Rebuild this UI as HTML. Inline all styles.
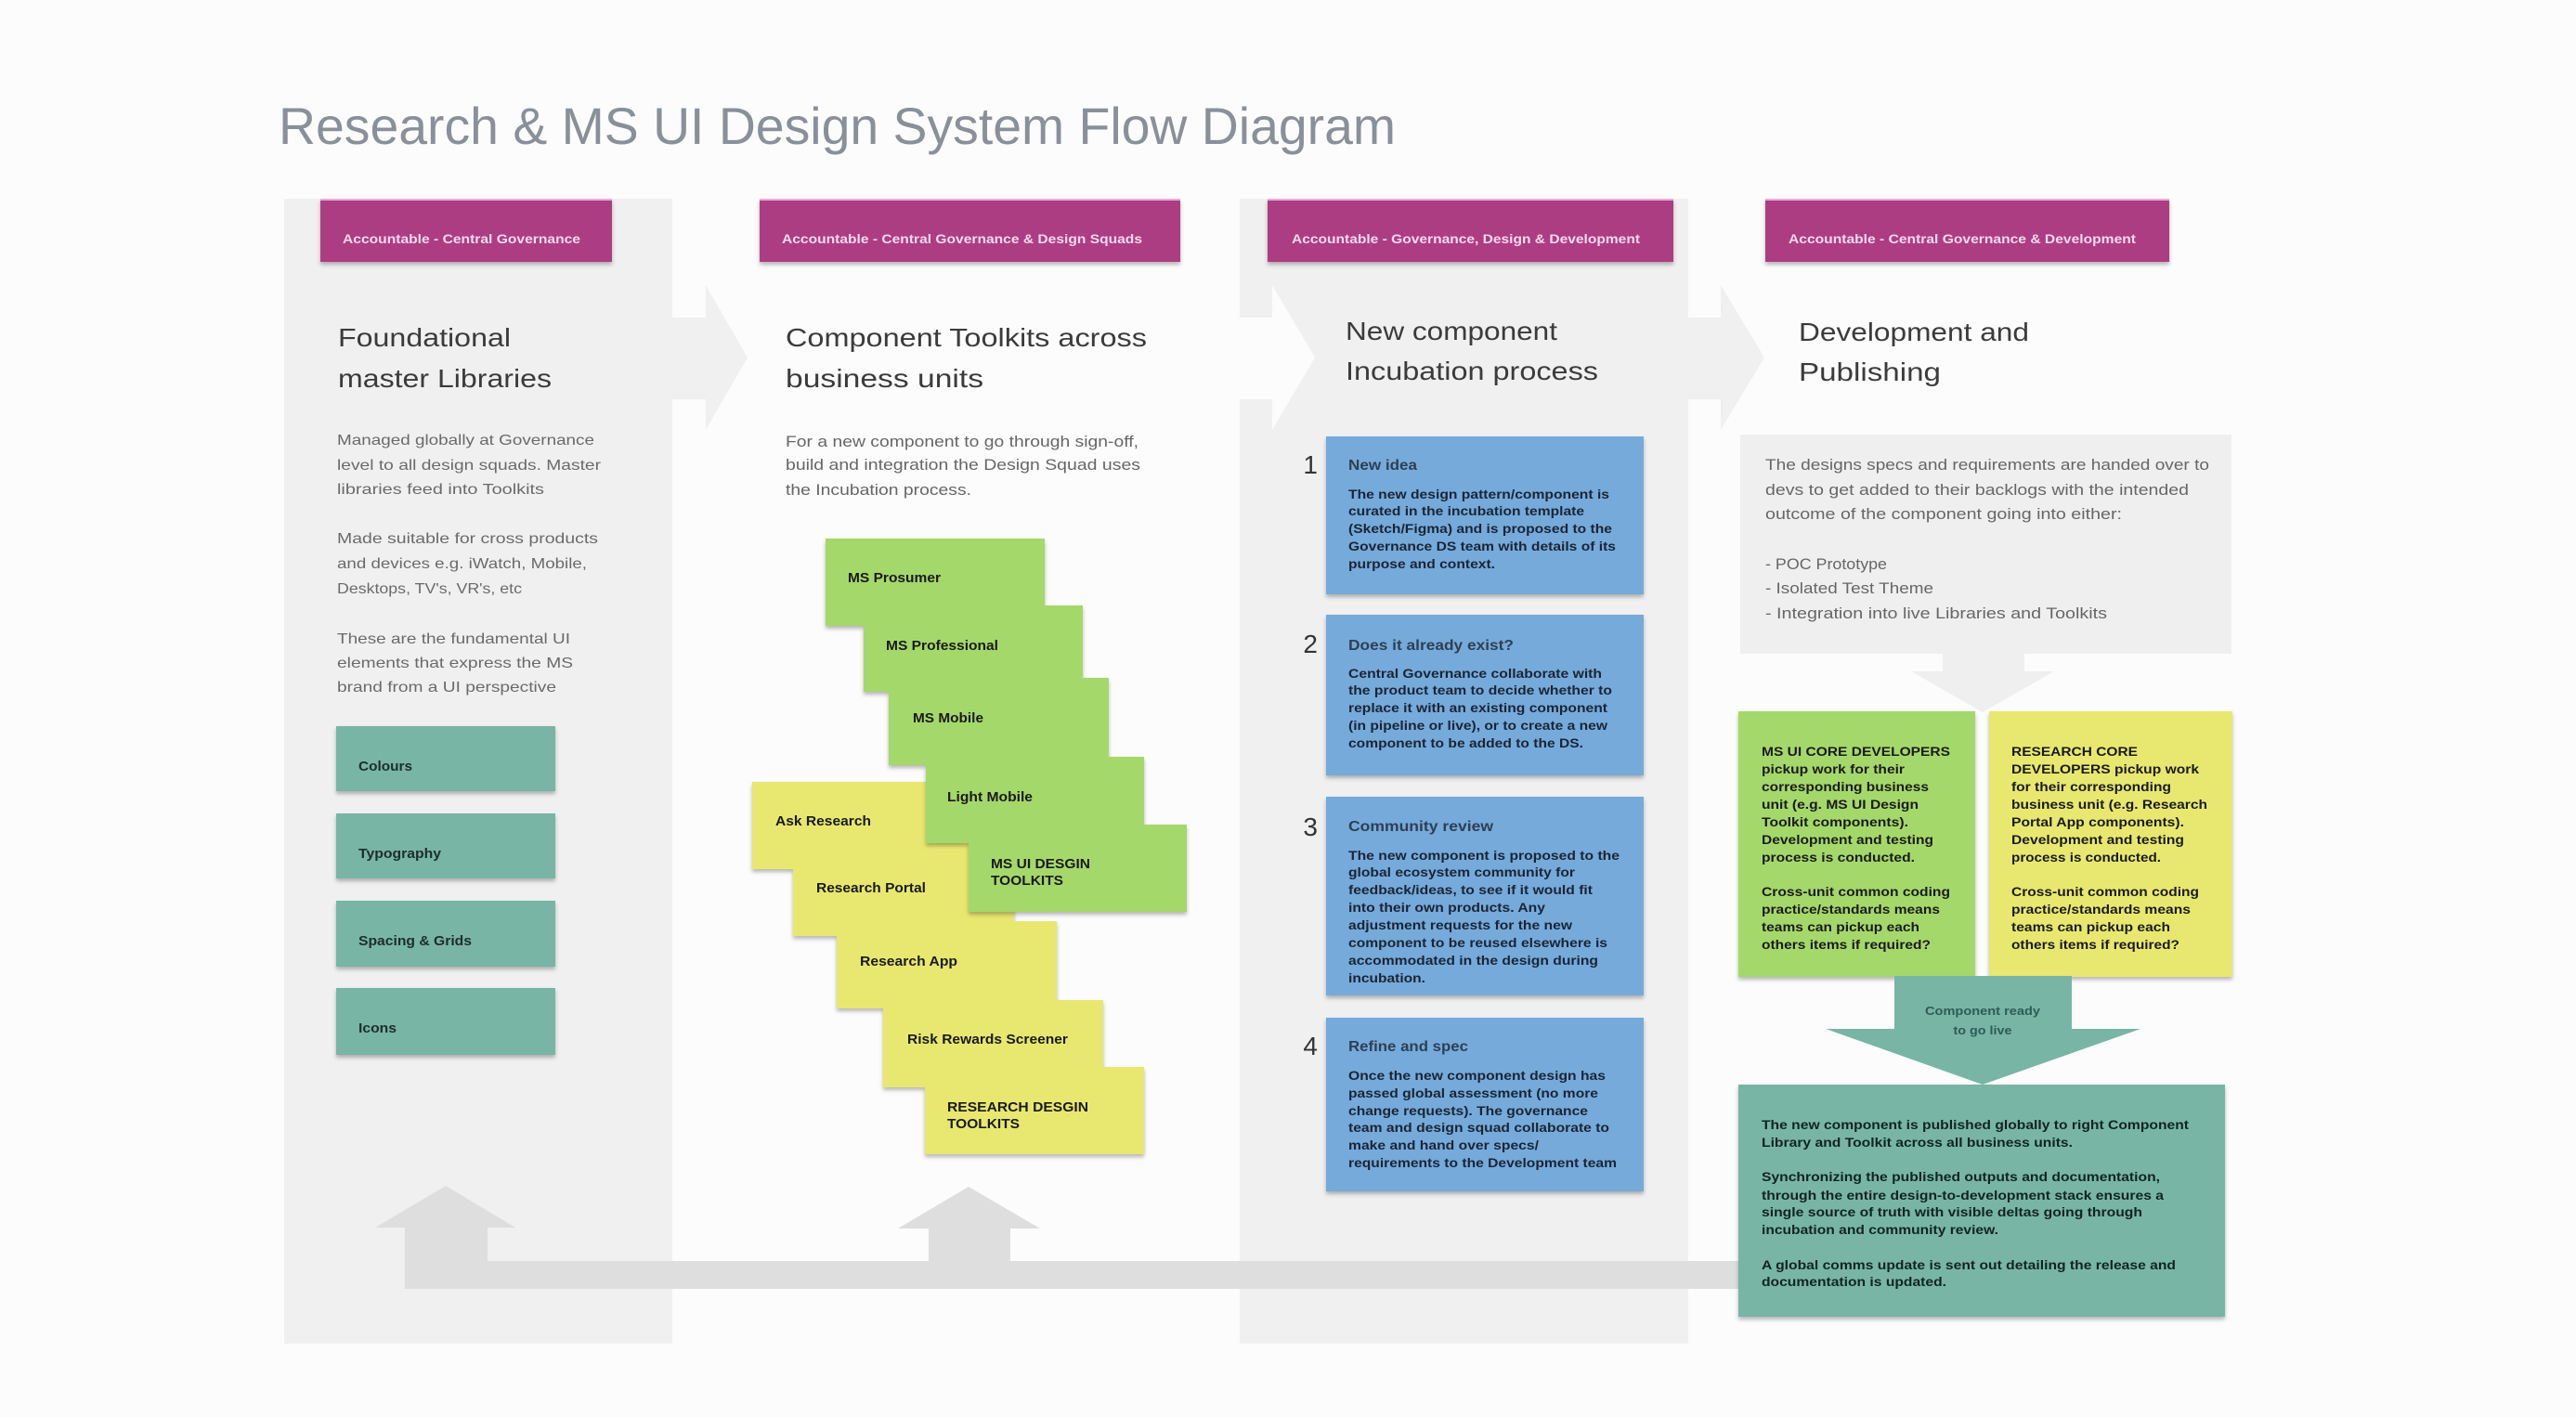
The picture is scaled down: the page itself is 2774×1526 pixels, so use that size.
<!DOCTYPE html>
<html>
<head>
<meta charset="utf-8">
<style>
  html, body { margin: 0; padding: 0; background: #fcfcfc; }
  svg { display: block; }
  text { font-family: "Liberation Sans", "DejaVu Sans", sans-serif; }
  .hdr { fill: #f8d9ef; font-size: 14px; font-weight: bold; }
  .h2 { fill: #3b3b3b; font-size: 28px; }
  .p { fill: #6a6a6a; font-size: 16px; }
  .p17 { fill: #666666; font-size: 17px; }
  .lbl { fill: #1d2e2a; font-size: 15px; font-weight: bold; }
  .stk { fill: #1a1a1a; font-size: 15px; font-weight: bold; }
  .num { fill: #333333; font-size: 28px; }
  .bt { fill: #2f3f52; font-size: 16px; font-weight: bold; }
  .bb { fill: #1b2433; font-size: 14px; font-weight: bold; }
  .db { fill: #1a1a1a; font-size: 13.5px; font-weight: bold; }
  .tb { fill: #102420; font-size: 13.5px; font-weight: bold; }
</style>
</head>
<body>
<svg width="2774" height="1526" viewBox="0 0 2774 1526" xmlns="http://www.w3.org/2000/svg">
  <defs>
    <filter id="sh" x="-10%" y="-10%" width="120%" height="130%">
      <feDropShadow dx="0" dy="3" stdDeviation="2" flood-color="#000" flood-opacity="0.28"/>
    </filter>
  </defs>

  <rect x="0" y="0" width="2774" height="1526" fill="#fcfcfc"/>

  <!-- Title -->
  <text x="300" y="155" font-size="56" fill="#8a9099" textLength="1203" lengthAdjust="spacingAndGlyphs">Research &amp; MS UI Design System Flow Diagram</text>

  <!-- Column 1 gray + arrow -->
  <rect x="306" y="214" width="418" height="1233" fill="#f0f0f0"/>
  <rect x="723" y="342" width="38" height="88" fill="#f0f0f0"/>
  <polygon points="760,307 805,385 760,463" fill="#f0f0f0"/>

  <!-- Column 3 gray + white arrow in + gray arrow out -->
  <rect x="1335" y="214" width="483" height="1233" fill="#f0f0f0"/>
  <rect x="1334" y="342" width="37" height="88" fill="#fcfcfc"/>
  <polygon points="1370,307 1416,385 1370,463" fill="#fcfcfc"/>
  <rect x="1817" y="342" width="37" height="88" fill="#f0f0f0"/>
  <polygon points="1853,307 1900,385 1853,463" fill="#f0f0f0"/>

  <!-- Magenta headers -->
  <g filter="url(#sh)">
    <rect x="345" y="214" width="314" height="68" fill="#ad3d83"/>
    <rect x="818" y="214" width="453" height="68" fill="#ad3d83"/>
    <rect x="1365" y="214" width="437" height="68" fill="#ad3d83"/>
    <rect x="1901" y="214" width="435" height="68" fill="#ad3d83"/>
  </g>
  <rect x="345" y="214" width="314" height="2" fill="#e9a9d4"/>
  <rect x="818" y="214" width="453" height="2" fill="#e9a9d4"/>
  <rect x="1365" y="214" width="437" height="2" fill="#e9a9d4"/>
  <rect x="1901" y="214" width="435" height="2" fill="#e9a9d4"/>
  <text class="hdr" x="369" y="262" textLength="256" lengthAdjust="spacingAndGlyphs">Accountable - Central Governance</text>
  <text class="hdr" x="842" y="262" textLength="388" lengthAdjust="spacingAndGlyphs">Accountable - Central Governance &amp; Design Squads</text>
  <text class="hdr" x="1391" y="262" textLength="375" lengthAdjust="spacingAndGlyphs">Accountable - Governance, Design &amp; Development</text>
  <text class="hdr" x="1926" y="262" textLength="374" lengthAdjust="spacingAndGlyphs">Accountable - Central Governance &amp; Development</text>

  <!-- Headings -->
  <text class="h2" x="364" y="373" textLength="186" lengthAdjust="spacingAndGlyphs">Foundational</text>
  <text class="h2" x="364" y="417" textLength="230" lengthAdjust="spacingAndGlyphs">master Libraries</text>
  <text class="h2" x="846" y="373" textLength="389" lengthAdjust="spacingAndGlyphs">Component Toolkits across</text>
  <text class="h2" x="846" y="417" textLength="213" lengthAdjust="spacingAndGlyphs">business units</text>
  <text class="h2" x="1449" y="366" textLength="228" lengthAdjust="spacingAndGlyphs">New component</text>
  <text class="h2" x="1449" y="409" textLength="272" lengthAdjust="spacingAndGlyphs">Incubation process</text>
  <text class="h2" x="1937" y="367" textLength="248" lengthAdjust="spacingAndGlyphs">Development and</text>
  <text class="h2" x="1937" y="410" textLength="153" lengthAdjust="spacingAndGlyphs">Publishing</text>

  <!-- Col 1 paragraphs -->
  <text class="p" x="363" y="479" textLength="277" lengthAdjust="spacingAndGlyphs">Managed globally at Governance</text>
  <text class="p" x="363" y="506" textLength="284" lengthAdjust="spacingAndGlyphs">level to all design squads. Master</text>
  <text class="p" x="363" y="532" textLength="223" lengthAdjust="spacingAndGlyphs">libraries feed into Toolkits</text>
  <text class="p" x="363" y="585" textLength="281" lengthAdjust="spacingAndGlyphs">Made suitable for cross products</text>
  <text class="p" x="363" y="612" textLength="269" lengthAdjust="spacingAndGlyphs">and devices e.g. iWatch, Mobile,</text>
  <text class="p" x="363" y="639" textLength="199" lengthAdjust="spacingAndGlyphs">Desktops, TV's, VR's, etc</text>
  <text class="p" x="363" y="693" textLength="251" lengthAdjust="spacingAndGlyphs">These are the fundamental UI</text>
  <text class="p" x="363" y="719" textLength="254" lengthAdjust="spacingAndGlyphs">elements that express the MS</text>
  <text class="p" x="363" y="745" textLength="236" lengthAdjust="spacingAndGlyphs">brand from a UI perspective</text>

  <!-- Col 1 teal boxes -->
  <g filter="url(#sh)" fill="#78b5a5">
    <rect x="362" y="782" width="236" height="70"/>
    <rect x="362" y="876" width="236" height="70"/>
    <rect x="362" y="970" width="236" height="71"/>
    <rect x="362" y="1064" width="236" height="72"/>
  </g>
  <text class="lbl" x="386" y="830" textLength="58" lengthAdjust="spacingAndGlyphs">Colours</text>
  <text class="lbl" x="386" y="924" textLength="89" lengthAdjust="spacingAndGlyphs">Typography</text>
  <text class="lbl" x="386" y="1018" textLength="122" lengthAdjust="spacingAndGlyphs">Spacing &amp; Grids</text>
  <text class="lbl" x="386" y="1112" textLength="41" lengthAdjust="spacingAndGlyphs">Icons</text>

  <!-- Col 2 paragraph -->
  <text class="p17" x="846" y="481" textLength="380" lengthAdjust="spacingAndGlyphs">For a new component to go through sign-off,</text>
  <text class="p17" x="846" y="506" textLength="382" lengthAdjust="spacingAndGlyphs">build and integration the Design Squad uses</text>
  <text class="p17" x="846" y="533" textLength="200" lengthAdjust="spacingAndGlyphs">the Incubation process.</text>

  <!-- Col 2 stickies: yellow first -->
  <g filter="url(#sh)">
    <rect x="810" y="842" width="236" height="94" fill="#e8e86f"/>
    <rect x="854" y="915" width="238" height="93" fill="#e8e86f"/>
    <rect x="901" y="992" width="237" height="94" fill="#e8e86f"/>
    <rect x="951" y="1077" width="237" height="94" fill="#e8e86f"/>
    <rect x="996" y="1149" width="236" height="94" fill="#e8e86f"/>
  </g>
  <text class="stk" x="835" y="889" textLength="103" lengthAdjust="spacingAndGlyphs">Ask Research</text>
  <text class="stk" x="879" y="961" textLength="118" lengthAdjust="spacingAndGlyphs">Research Portal</text>
  <text class="stk" x="926" y="1040" textLength="105" lengthAdjust="spacingAndGlyphs">Research App</text>
  <text class="stk" x="977" y="1124" textLength="173" lengthAdjust="spacingAndGlyphs">Risk Rewards Screener</text>
  <text class="stk" x="1020" y="1197" textLength="152" lengthAdjust="spacingAndGlyphs">RESEARCH DESGIN</text>
  <text class="stk" x="1020" y="1215" textLength="78" lengthAdjust="spacingAndGlyphs">TOOLKITS</text>
  <g filter="url(#sh)">
    <rect x="889" y="580" width="236" height="94" fill="#a5d86b"/>
    <rect x="930" y="652" width="236" height="93" fill="#a5d86b"/>
    <rect x="957" y="730" width="237" height="94" fill="#a5d86b"/>
    <rect x="997" y="815" width="235" height="93" fill="#a5d86b"/>
    <rect x="1043" y="888" width="235" height="94" fill="#a5d86b"/>
  </g>
  <text class="stk" x="913" y="627" textLength="100" lengthAdjust="spacingAndGlyphs">MS Prosumer</text>
  <text class="stk" x="954" y="700" textLength="121" lengthAdjust="spacingAndGlyphs">MS Professional</text>
  <text class="stk" x="983" y="778" textLength="76" lengthAdjust="spacingAndGlyphs">MS Mobile</text>
  <text class="stk" x="1020" y="863" textLength="92" lengthAdjust="spacingAndGlyphs">Light Mobile</text>
  <text class="stk" x="1067" y="935" textLength="107" lengthAdjust="spacingAndGlyphs">MS UI DESGIN</text>
  <text class="stk" x="1067" y="953" textLength="78" lengthAdjust="spacingAndGlyphs">TOOLKITS</text>

  <!-- Col 3 blue boxes -->
  <g filter="url(#sh)" fill="#74aadb">
    <rect x="1428" y="470" width="342" height="170"/>
    <rect x="1428" y="662" width="342" height="173"/>
    <rect x="1428" y="858" width="342" height="214"/>
    <rect x="1428" y="1096" width="342" height="187"/>
  </g>
  <text class="num" x="1419" y="510" text-anchor="end">1</text>
  <text class="num" x="1419" y="703" text-anchor="end">2</text>
  <text class="num" x="1419" y="900" text-anchor="end">3</text>
  <text class="num" x="1419" y="1136" text-anchor="end">4</text>

  <text class="bt" x="1452" y="506" textLength="74" lengthAdjust="spacingAndGlyphs">New idea</text>
  <text class="bb" x="1452" y="537" textLength="281" lengthAdjust="spacingAndGlyphs">The new design pattern/component is</text>
  <text class="bb" x="1452" y="555" textLength="254" lengthAdjust="spacingAndGlyphs">curated in the incubation template</text>
  <text class="bb" x="1452" y="574" textLength="284" lengthAdjust="spacingAndGlyphs">(Sketch/Figma) and is proposed to the</text>
  <text class="bb" x="1452" y="593" textLength="288" lengthAdjust="spacingAndGlyphs">Governance DS team with details of its</text>
  <text class="bb" x="1452" y="612" textLength="158" lengthAdjust="spacingAndGlyphs">purpose and context.</text>

  <text class="bt" x="1452" y="700" textLength="178" lengthAdjust="spacingAndGlyphs">Does it already exist?</text>
  <text class="bb" x="1452" y="730" textLength="273" lengthAdjust="spacingAndGlyphs">Central Governance collaborate with</text>
  <text class="bb" x="1452" y="748" textLength="284" lengthAdjust="spacingAndGlyphs">the product team to decide whether to</text>
  <text class="bb" x="1452" y="767" textLength="279" lengthAdjust="spacingAndGlyphs">replace it with an existing component</text>
  <text class="bb" x="1452" y="786" textLength="279" lengthAdjust="spacingAndGlyphs">(in pipeline or live), or to create a new</text>
  <text class="bb" x="1452" y="805" textLength="253" lengthAdjust="spacingAndGlyphs">component to be added to the DS.</text>

  <text class="bt" x="1452" y="895" textLength="156" lengthAdjust="spacingAndGlyphs">Community review</text>
  <text class="bb" x="1452" y="926" textLength="292" lengthAdjust="spacingAndGlyphs">The new component is proposed to the</text>
  <text class="bb" x="1452" y="944" textLength="244" lengthAdjust="spacingAndGlyphs">global ecosystem community for</text>
  <text class="bb" x="1452" y="963" textLength="263" lengthAdjust="spacingAndGlyphs">feedback/ideas, to see if it would fit</text>
  <text class="bb" x="1452" y="982" textLength="212" lengthAdjust="spacingAndGlyphs">into their own products. Any</text>
  <text class="bb" x="1452" y="1001" textLength="241" lengthAdjust="spacingAndGlyphs">adjustment requests for the new</text>
  <text class="bb" x="1452" y="1020" textLength="279" lengthAdjust="spacingAndGlyphs">component to be reused elsewhere is</text>
  <text class="bb" x="1452" y="1039" textLength="269" lengthAdjust="spacingAndGlyphs">accommodated in the design during</text>
  <text class="bb" x="1452" y="1058" textLength="83" lengthAdjust="spacingAndGlyphs">incubation.</text>

  <text class="bt" x="1452" y="1132" textLength="129" lengthAdjust="spacingAndGlyphs">Refine and spec</text>
  <text class="bb" x="1452" y="1163" textLength="277" lengthAdjust="spacingAndGlyphs">Once the new component design has</text>
  <text class="bb" x="1452" y="1182" textLength="269" lengthAdjust="spacingAndGlyphs">passed global assessment (no more</text>
  <text class="bb" x="1452" y="1201" textLength="258" lengthAdjust="spacingAndGlyphs">change requests). The governance</text>
  <text class="bb" x="1452" y="1219" textLength="281" lengthAdjust="spacingAndGlyphs">team and design squad collaborate to</text>
  <text class="bb" x="1452" y="1238" textLength="205" lengthAdjust="spacingAndGlyphs">make and hand over specs/</text>
  <text class="bb" x="1452" y="1257" textLength="289" lengthAdjust="spacingAndGlyphs">requirements to the Development team</text>

  <!-- Col 4 text box -->
  <rect x="1874" y="468" width="529" height="236" fill="#efefef"/>
  <text class="p17" x="1901" y="506" textLength="478" lengthAdjust="spacingAndGlyphs">The designs specs and requirements are handed over to</text>
  <text class="p17" x="1901" y="533" textLength="456" lengthAdjust="spacingAndGlyphs">devs to get added to their backlogs with the intended</text>
  <text class="p17" x="1901" y="559" textLength="384" lengthAdjust="spacingAndGlyphs">outcome of the component going into either:</text>
  <text class="p17" x="1901" y="613" textLength="131" lengthAdjust="spacingAndGlyphs">- POC Prototype</text>
  <text class="p17" x="1901" y="639" textLength="181" lengthAdjust="spacingAndGlyphs">- Isolated Test Theme</text>
  <text class="p17" x="1901" y="666" textLength="368" lengthAdjust="spacingAndGlyphs">- Integration into live Libraries and Toolkits</text>

  <!-- light gray down arrow -->
  <rect x="2092" y="703" width="88" height="21" fill="#efefef"/>
  <polygon points="2058,723 2212,723 2135,767" fill="#efefef"/>

  <!-- Dev boxes -->
  <g filter="url(#sh)">
    <rect x="1872" y="766" width="255" height="286" fill="#a5d86b"/>
    <rect x="2142" y="766" width="262" height="286" fill="#e8e86f"/>
  </g>
  <text class="db" x="1897" y="814" textLength="203" lengthAdjust="spacingAndGlyphs">MS UI CORE DEVELOPERS</text>
  <text class="db" x="1897" y="833" textLength="154" lengthAdjust="spacingAndGlyphs">pickup work for their</text>
  <text class="db" x="1897" y="852" textLength="180" lengthAdjust="spacingAndGlyphs">corresponding business</text>
  <text class="db" x="1897" y="871" textLength="169" lengthAdjust="spacingAndGlyphs">unit (e.g. MS UI Design</text>
  <text class="db" x="1897" y="890" textLength="158" lengthAdjust="spacingAndGlyphs">Toolkit components).</text>
  <text class="db" x="1897" y="909" textLength="185" lengthAdjust="spacingAndGlyphs">Development and testing</text>
  <text class="db" x="1897" y="928" textLength="165" lengthAdjust="spacingAndGlyphs">process is conducted.</text>
  <text class="db" x="1897" y="965" textLength="203" lengthAdjust="spacingAndGlyphs">Cross-unit common coding</text>
  <text class="db" x="1897" y="984" textLength="192" lengthAdjust="spacingAndGlyphs">practice/standards means</text>
  <text class="db" x="1897" y="1003" textLength="170" lengthAdjust="spacingAndGlyphs">teams can pickup each</text>
  <text class="db" x="1897" y="1022" textLength="182" lengthAdjust="spacingAndGlyphs">others items if required?</text>

  <text class="db" x="2166" y="814" textLength="136" lengthAdjust="spacingAndGlyphs">RESEARCH CORE</text>
  <text class="db" x="2166" y="833" textLength="202" lengthAdjust="spacingAndGlyphs">DEVELOPERS pickup work</text>
  <text class="db" x="2166" y="852" textLength="172" lengthAdjust="spacingAndGlyphs">for their corresponding</text>
  <text class="db" x="2166" y="871" textLength="211" lengthAdjust="spacingAndGlyphs">business unit (e.g. Research</text>
  <text class="db" x="2166" y="890" textLength="186" lengthAdjust="spacingAndGlyphs">Portal App components).</text>
  <text class="db" x="2166" y="909" textLength="186" lengthAdjust="spacingAndGlyphs">Development and testing</text>
  <text class="db" x="2166" y="928" textLength="161" lengthAdjust="spacingAndGlyphs">process is conducted.</text>
  <text class="db" x="2166" y="965" textLength="202" lengthAdjust="spacingAndGlyphs">Cross-unit common coding</text>
  <text class="db" x="2166" y="984" textLength="193" lengthAdjust="spacingAndGlyphs">practice/standards means</text>
  <text class="db" x="2166" y="1003" textLength="171" lengthAdjust="spacingAndGlyphs">teams can pickup each</text>
  <text class="db" x="2166" y="1022" textLength="181" lengthAdjust="spacingAndGlyphs">others items if required?</text>

  <!-- Teal down arrow -->
  <rect x="2040" y="1051" width="191" height="58" fill="#78b5a5"/>
  <polygon points="1966,1108 2305,1108 2135,1168" fill="#78b5a5"/>
  <text x="2135" y="1093" text-anchor="middle" font-size="13" font-weight="bold" fill="#2e5c55" textLength="124" lengthAdjust="spacingAndGlyphs">Component ready</text>
  <text x="2135" y="1114" text-anchor="middle" font-size="13" font-weight="bold" fill="#2e5c55" textLength="63" lengthAdjust="spacingAndGlyphs">to go live</text>

  <!-- Bottom feedback band + up arrows -->
  <rect x="436" y="1358" width="1437" height="30" fill="#dedede"/>
  <rect x="436" y="1321" width="89" height="67" fill="#dedede"/>
  <polygon points="404,1322 555,1322 480,1277" fill="#dedede"/>
  <rect x="1000" y="1322" width="88" height="37" fill="#dedede"/>
  <polygon points="967,1323 1120,1323 1043,1278" fill="#dedede"/>

  <!-- Teal publish box -->
  <rect x="1872" y="1168" width="524" height="250" fill="#78b5a5" filter="url(#sh)"/>
  <text class="tb" x="1897" y="1216" textLength="460" lengthAdjust="spacingAndGlyphs">The new component is published globally to right Component</text>
  <text class="tb" x="1897" y="1235" textLength="335" lengthAdjust="spacingAndGlyphs">Library and Toolkit across all business units.</text>
  <text class="tb" x="1897" y="1272" textLength="429" lengthAdjust="spacingAndGlyphs">Synchronizing the published outputs and documentation,</text>
  <text class="tb" x="1897" y="1292" textLength="433" lengthAdjust="spacingAndGlyphs">through the entire design-to-development stack ensures a</text>
  <text class="tb" x="1897" y="1310" textLength="410" lengthAdjust="spacingAndGlyphs">single source of truth with visible deltas going through</text>
  <text class="tb" x="1897" y="1329" textLength="255" lengthAdjust="spacingAndGlyphs">incubation and community review.</text>
  <text class="tb" x="1897" y="1367" textLength="446" lengthAdjust="spacingAndGlyphs">A global comms update is sent out detailing the release and</text>
  <text class="tb" x="1897" y="1385" textLength="199" lengthAdjust="spacingAndGlyphs">documentation is updated.</text>
</svg>
</body>
</html>
